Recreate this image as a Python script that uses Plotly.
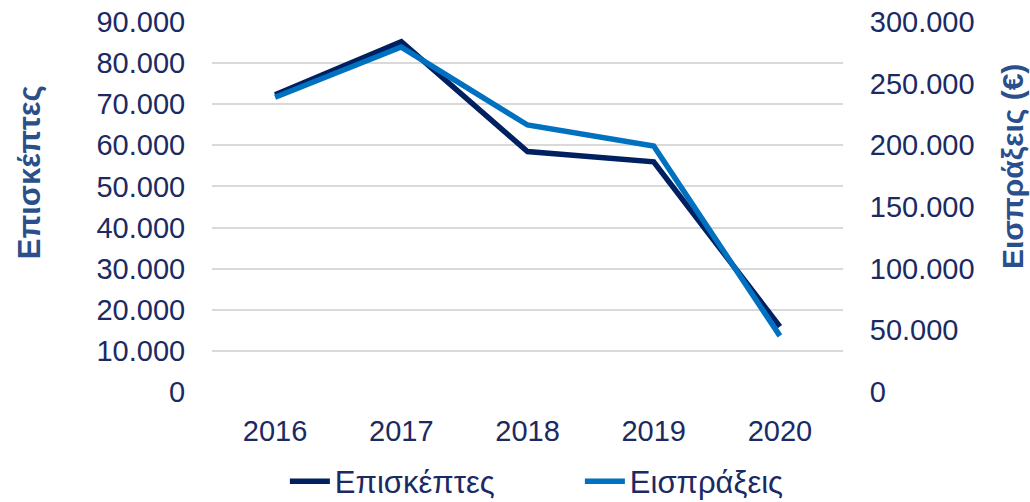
import plotly.graph_objects as go

years = ["2016", "2017", "2018", "2019", "2020"]
visitors = [72300, 85200, 58500, 56000, 15900]
revenue = [239000, 279700, 216500, 199500, 45500]

left_ticks = list(range(0, 90001, 10000))
right_ticks = list(range(0, 300001, 50000))


def dotted(v):
    return f"{v:,}".replace(",", ".")


NAVY = "#002060"
BLUE = "#0070C0"
TEXT = "#1B2A63"
TITLE = "#2A4F8A"
FONT = "Liberation Sans, Arial, sans-serif"

fig = go.Figure()
fig.add_trace(go.Scatter(
    x=years, y=visitors, name="Επισκέπτες", mode="lines",
    line=dict(color=NAVY, width=5.5), yaxis="y",
))
fig.add_trace(go.Scatter(
    x=years, y=revenue, name="Εισπράξεις", mode="lines",
    line=dict(color=BLUE, width=5.5), yaxis="y2",
))

fig.update_layout(
    width=1030, height=502,
    margin=dict(l=212, r=187, t=22, b=110, autoexpand=False),
    paper_bgcolor="white", plot_bgcolor="white",
    font=dict(family=FONT, size=29, color=TEXT),
    showlegend=True,
    legend=dict(
        orientation="h", x=0.583, xanchor="center", y=-0.242, yanchor="middle",
        font=dict(size=31, color=TEXT), itemwidth=40,
        entrywidth=240,
    ),
    xaxis=dict(
        type="category", range=[-0.5, 4.5],
        showgrid=False, zeroline=False, showline=False,
        ticks="outside", ticklen=13, tickcolor="rgba(0,0,0,0)",
        tickfont=dict(size=29, color=TEXT),
    ),
    yaxis=dict(
        range=[0, 90000], tickvals=left_ticks,
        ticktext=[dotted(v) for v in left_ticks],
        showgrid=True, gridcolor="#D9D9D9", gridwidth=1.5,
        zeroline=False, showline=False,
        ticks="outside", ticklen=20, tickcolor="rgba(0,0,0,0)",
        tickfont=dict(size=29, color=TEXT),
    ),
    yaxis2=dict(
        range=[0, 300000], tickvals=right_ticks,
        ticktext=[dotted(v) for v in right_ticks],
        overlaying="y", side="right",
        showgrid=False, zeroline=False, showline=False,
        ticks="outside", ticklen=20, tickcolor="rgba(0,0,0,0)",
        tickfont=dict(size=29, color=TEXT),
    ),
    annotations=[
        dict(text="<b>Επισκέπτες</b>", textangle=-90, xref="paper", yref="paper",
             x=-0.29, y=0.594, xanchor="center", yanchor="middle",
             showarrow=False, font=dict(size=31, color=TITLE)),
        dict(text="<b>Εισπράξεις (€)</b>", textangle=-90, xref="paper", yref="paper",
             x=1.269, y=0.61, xanchor="center", yanchor="middle",
             showarrow=False, font=dict(size=30, color=TITLE)),
    ],
)

fig.write_html("out.html")
